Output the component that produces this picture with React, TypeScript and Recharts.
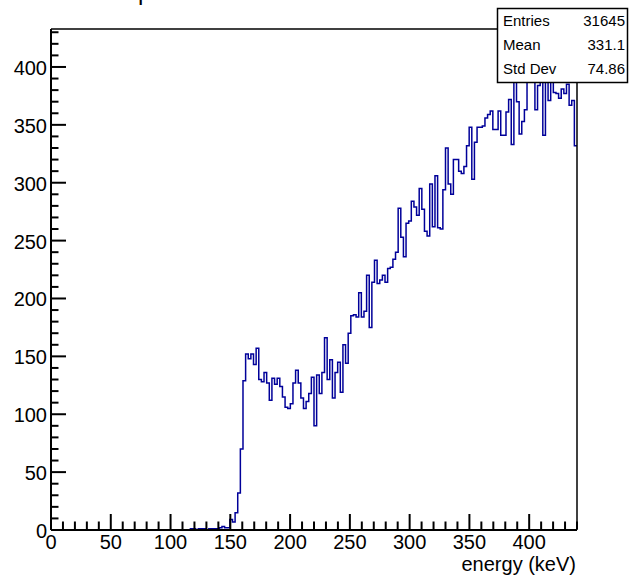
import React from 'react';
import { LineChart, Line, XAxis, YAxis } from 'recharts';

// Histogram definition: 200 bins of 2.2 keV from 0 to 440 keV
const BIN_LOW = 0;
const BIN_WIDTH = 2.2;
const X_MAX = 440;
const Y_MAX = 432.8;

const binCounts = [
  0, 0, 0, 0, 0, 0, 0, 0, 0, 0,
  0, 0, 0, 0, 0, 0, 0, 0, 0, 0,
  0, 0, 0, 0, 0, 0, 0, 0, 0, 0,
  0, 0, 0, 0, 0, 0, 0, 0, 0, 0,
  0, 0, 0, 0, 0, 0, 0, 0, 0, 0,
  0, 0, 0, 1, 1, 0, 1, 1, 1, 0,
  1, 1, 1, 1, 2, 3, 2, 2, 9, 7,
  15, 32, 70, 129, 152, 148, 152, 143, 157, 130,
  128, 136, 127, 112, 131, 126, 131, 124, 115, 106,
  105, 109, 127, 138, 127, 114, 105, 111, 118, 132,
  90, 134, 118, 136, 166, 130, 147, 114, 136, 145,
  119, 160, 144, 170, 185, 186, 184, 205, 184, 189,
  220, 175, 214, 233, 213, 216, 220, 214, 226, 227,
  234, 240, 278, 253, 236, 265, 267, 284, 279, 272,
  295, 277, 258, 254, 299, 262, 306, 261, 260, 294,
  330, 299, 290, 320, 320, 310, 308, 314, 332, 348,
  303, 335, 348, 348, 349, 356, 359, 362, 346, 346,
  362, 341, 341, 361, 372, 333, 405, 370, 342, 353,
  363, 398, 390, 400, 363, 384, 395, 341, 398, 371,
  392, 378, 377, 373, 381, 377, 385, 367, 371, 332,
];

const xTicks = [
  0, 10, 20, 30, 40, 50, 60, 70, 80, 90, 100, 110, 120, 130, 140, 150,
  160, 170, 180, 190, 200, 210, 220, 230, 240, 250, 260, 270, 280, 290,
  300, 310, 320, 330, 340, 350, 360, 370, 380, 390, 400, 410, 420, 430, 440,
];
const yTicks = [
  0, 10, 20, 30, 40, 50, 60, 70, 80, 90, 100, 110, 120, 130, 140, 150,
  160, 170, 180, 190, 200, 210, 220, 230, 240, 250, 260, 270, 280, 290,
  300, 310, 320, 330, 340, 350, 360, 370, 380, 390, 400, 410, 420, 430,
];
const MAJOR_STEP = 50;

const statsLabels = ['Entries', 'Mean', 'Std Dev'];
const statsValues = ['31645', '331.1', '74.86'];
const xTitle = 'energy (keV)';
const titleFragment = 'p';

const rows = binCounts.map((c, i) => ({ x: BIN_LOW + i * BIN_WIDTH, count: c }));
rows.push({ x: BIN_LOW + binCounts.length * BIN_WIDTH, count: binCounts[binCounts.length - 1] });

const FONT = 'Liberation Sans, Arial, Helvetica, sans-serif';
const LINE_COLOR = '#000099';

const XTick = (props: any) => {
  const { x, y, payload } = props;
  const v = payload.value;
  const major = v % MAJOR_STEP === 0;
  const y0 = y - 1;
  return (
    <g>
      <line x1={x} x2={x} y1={y0} y2={y0 - (major ? 15 : 7.5)} stroke="#000" strokeWidth={2} />
      {major && (
        <text x={x} y={y0 + 20} textAnchor="middle" fontSize={20} fontFamily={FONT} fill="#000">
          {v}
        </text>
      )}
    </g>
  );
};

const YTick = (props: any) => {
  const { x, y, payload } = props;
  const v = payload.value;
  const major = v % MAJOR_STEP === 0;
  return (
    <g>
      <line x1={x} x2={x + (major ? 15 : 7.5)} y1={y} y2={y} stroke="#000" strokeWidth={2} />
      {major && (
        <text x={x - 4} y={y + 8} textAnchor="end" fontSize={20} fontFamily={FONT} fill="#000">
          {v}
        </text>
      )}
    </g>
  );
};

export default function App() {
  return (
    <div style={{ position: 'absolute', left: 0, top: 0, width: 629, height: 577, background: '#fff' }}>
      <LineChart
        width={629}
        height={577}
        data={rows}
        margin={{ top: 28, right: 51, bottom: 46, left: 50 }}
      >
        <XAxis
          dataKey="x"
          type="number"
          domain={[0, X_MAX]}
          ticks={xTicks}
          interval={0}
          height={1}
          tickSize={0}
          tickMargin={0}
          tickLine={false}
          axisLine={{ stroke: '#000', strokeWidth: 2 }}
          tick={(p: any) => <XTick {...p} />}
        />
        <XAxis
          xAxisId="top"
          orientation="top"
          type="number"
          domain={[0, X_MAX]}
          height={1}
          tick={false}
          tickLine={false}
          axisLine={{ stroke: '#000', strokeWidth: 1.5 }}
        />
        <YAxis
          type="number"
          domain={[0, Y_MAX]}
          ticks={yTicks}
          interval={0}
          width={1}
          tickSize={0}
          tickMargin={0}
          tickLine={false}
          axisLine={{ stroke: '#000', strokeWidth: 2 }}
          tick={(p: any) => <YTick {...p} />}
        />
        <YAxis
          yAxisId="right"
          orientation="right"
          type="number"
          domain={[0, Y_MAX]}
          width={1}
          tick={false}
          tickLine={false}
          axisLine={{ stroke: '#000', strokeWidth: 1.5 }}
        />
        <Line
          dataKey="count"
          type="stepAfter"
          stroke={LINE_COLOR}
          strokeWidth={1.5}
          dot={false}
          activeDot={false}
          isAnimationActive={false}
        />
      </LineChart>
      <svg
        width={629}
        height={577}
        style={{ position: 'absolute', left: 0, top: 0, pointerEvents: 'none' }}
      >
        <text x={138} y={-0.5} fontSize={24} fontFamily={FONT} fill="#000">
          {titleFragment}
        </text>
        <rect x={497.5} y={8.5} width={130} height={74} fill="#fff" stroke="#000" strokeWidth={1.5} />
        {statsLabels.map((s, i) => (
          <text key={s} x={503} y={26 + i * 24} fontSize={15} fontFamily={FONT} fill="#000">
            {s}
          </text>
        ))}
        {statsValues.map((s, i) => (
          <text key={s} x={625} y={26 + i * 24} fontSize={15} fontFamily={FONT} fill="#000" textAnchor="end">
            {s}
          </text>
        ))}
        <text x={576} y={571} fontSize={20} fontFamily={FONT} fill="#000" textAnchor="end">
          {xTitle}
        </text>
      </svg>
    </div>
  );
}
